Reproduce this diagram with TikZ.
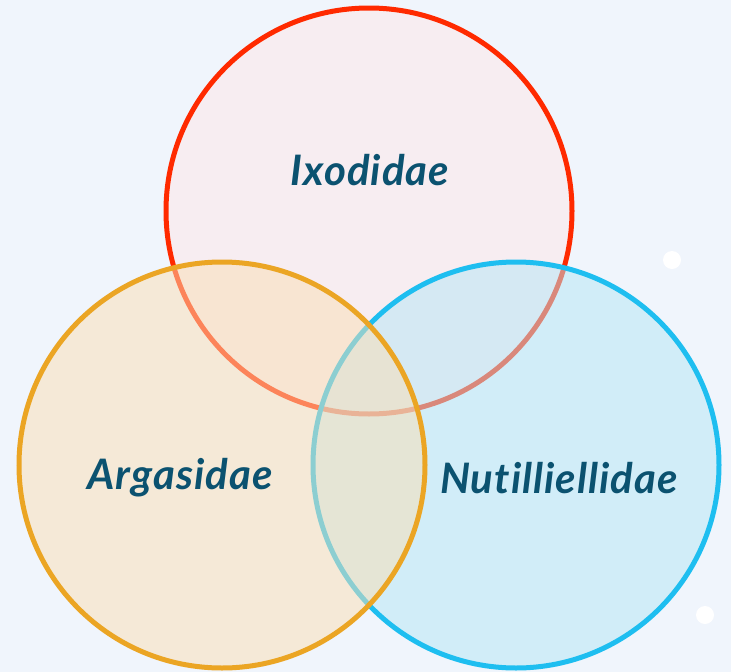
\documentclass[tikz,border=0pt]{standalone}
\usepackage{fontspec}
\setmainfont{Lato}[Ligatures=NoCommon]
\definecolor{bg}{RGB}{240,245,252}
\definecolor{redc}{RGB}{255,42,0}
\definecolor{redf}{RGB}{254,231,232}
\definecolor{orac}{RGB}{235,165,36}
\definecolor{oraf}{RGB}{250,223,180}
\definecolor{bluc}{RGB}{30,190,240}
\definecolor{bluf}{RGB}{180,231,246}
\definecolor{txt}{RGB}{11,82,112}
\begin{document}
\begin{tikzpicture}[x=1pt,y=-1pt,
  set/.style={circle,inner sep=0pt,minimum size=406pt,line width=5pt,fill opacity=0.5,draw opacity=1},
  lbl/.style={font=\fontsize{42}{42}\selectfont\bfseries\itshape\addfontfeature{LetterSpace=2.5},text=txt,inner sep=0pt},
  dot/.style={circle,fill=white,inner sep=0pt,minimum size=18pt}]
\fill[bg] (0,0) rectangle (731,672);
\useasboundingbox (0,0) rectangle (731,672);
\node[set,draw=redc,fill=redf] (ixo) at (369,211) {};
\node[set,draw=bluc,fill=bluf] (nut) at (516,465) {};
\node[set,draw=orac,fill=oraf] (arg) at (222,465) {};
\node[lbl] (lixo) at (370,170) {Ixodidae};
\node[lbl] (larg) at (180,478) {Argasidae};
\node[lbl] (lnut) at (559,478) {Nutilliellidae};
\node[dot] (d1) at (672,260) {};
\node[dot] (d2) at (705,615) {};
\end{tikzpicture}
\end{document}
